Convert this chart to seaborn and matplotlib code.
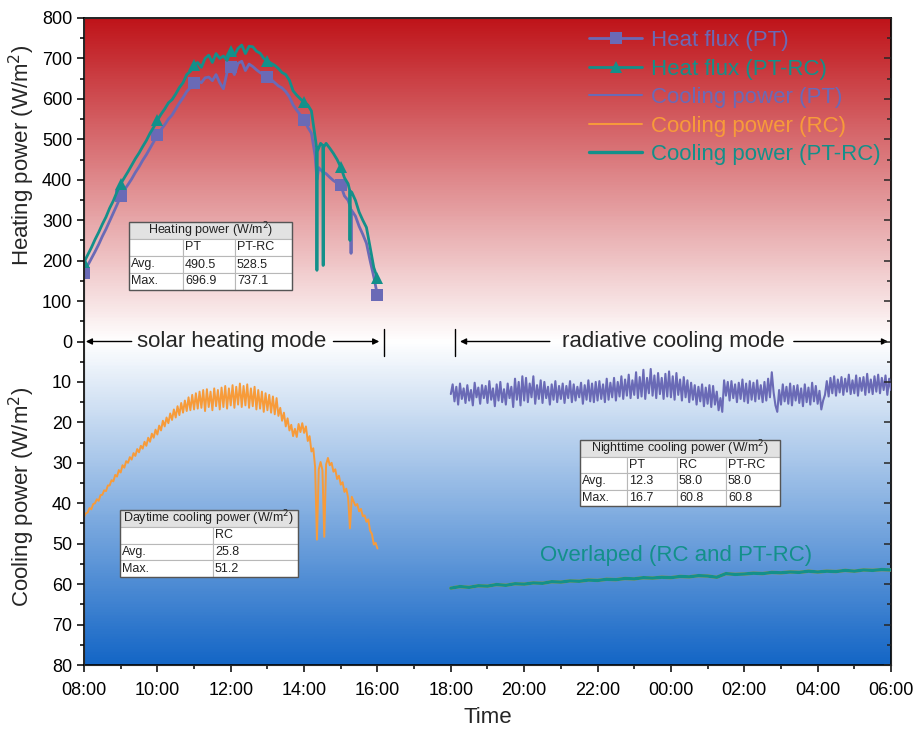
import numpy as np
import pandas as pd
import matplotlib.pyplot as plt
import seaborn as sns
from matplotlib.colors import LinearSegmentedColormap
from matplotlib.patches import Rectangle

# ---- heat flux (W/m2), daytime, solar heating mode ----
heat_time_pt = [8.0, 8.1, 8.2, 8.3, 8.4, 8.5, 8.6, 8.7, 8.8, 8.9, 9.0, 9.1, 9.2, 9.3, 9.4, 9.5, 9.6, 9.7, 9.8, 9.9,
                10.0, 10.1, 10.2, 10.3, 10.4, 10.5, 10.6, 10.7, 10.8, 10.9, 11.0, 11.1, 11.2, 11.3, 11.4, 11.5, 11.6,
                11.7, 11.8, 11.9, 12.0, 12.1, 12.2, 12.3, 12.4, 12.5, 12.6, 12.7, 12.8, 12.9, 13.0, 13.1, 13.2, 13.3,
                13.4, 13.5, 13.6, 13.7, 13.8, 13.9, 14.0, 14.1, 14.2, 14.3, 14.35, 14.4, 14.5, 14.6, 14.7, 14.8, 14.9,
                15.0, 15.1, 15.2, 15.27, 15.28, 15.29, 15.4, 15.5, 15.6, 15.7, 15.8, 15.9, 16.0]
heat_pt = [170, 188, 205, 222, 240, 260, 278, 298, 318, 338, 359, 375, 388, 402, 418, 432, 448, 462, 478, 494,
           510, 524, 536, 550, 560, 575, 590, 603, 618, 628, 639, 645, 640, 652, 654, 645, 660,
           640, 625, 665, 680, 660, 688, 693, 670, 686, 680, 672, 665, 660, 654, 648, 640, 632,
           627, 618, 605, 585, 572, 560, 547, 530, 515, 460, 400, 430, 420, 415, 406, 398, 392,
           386, 360, 349, 330, 218, 325, 310, 285, 265, 243, 200, 160, 114]

heat_time_ptrc = [8.0, 8.1, 8.2, 8.3, 8.4, 8.5, 8.6, 8.7, 8.8, 8.9, 9.0, 9.1, 9.2, 9.3, 9.4, 9.5, 9.6, 9.7, 9.8, 9.9,
                  10.0, 10.1, 10.2, 10.3, 10.4, 10.5, 10.6, 10.7, 10.8, 10.9, 11.0, 11.1, 11.2, 11.3, 11.4, 11.5,
                  11.6, 11.7, 11.8, 11.9, 12.0, 12.1, 12.2, 12.3, 12.4, 12.5, 12.6, 12.7, 12.8, 12.9, 13.0, 13.1,
                  13.2, 13.3, 13.4, 13.5, 13.6, 13.7, 13.8, 13.9, 14.0, 14.1, 14.2, 14.3, 14.34, 14.35, 14.36,
                  14.45, 14.51, 14.52, 14.53, 14.6, 14.7, 14.8, 14.9, 15.0, 15.1, 15.2, 15.24, 15.25, 15.26,
                  15.3, 15.4, 15.5, 15.6, 15.7, 15.8, 15.9, 16.0]
heat_ptrc = [196, 214, 232, 252, 270, 290, 308, 330, 348, 370, 390, 405, 420, 436, 452, 466, 482, 497, 515, 530,
             547, 562, 575, 590, 598, 612, 628, 640, 660, 668, 683, 690, 678, 700, 708, 690,
             712, 700, 706, 695, 719, 708, 725, 733, 712, 730, 729, 718, 713, 700, 694, 688,
             683, 675, 665, 660, 646, 620, 609, 600, 592, 585, 570, 506, 480, 176, 470,
             490, 485, 188, 480, 490, 478, 465, 450, 431, 405, 390, 375, 250, 372,
             369, 349, 320, 300, 282, 233, 183, 156]

# ---- cooling power (W/m2) ----
# RC, daytime 08:00-16:00 (every 3 min)
rc_day = [43.4, 42.5, 42.3, 41.2, 41.5, 40.2, 40.0, 39.0, 39.4, 38.0, 37.9, 36.8, 37.0, 35.6, 35.6, 34.3, 34.6, 33.0,
          33.4, 31.8, 32.4, 30.6, 31.2, 29.6, 30.0, 28.6, 29.2, 27.6, 28.3, 26.6, 27.4, 25.8, 26.5, 24.8, 25.8, 23.8,
          24.8, 22.8, 23.8, 21.8, 23.0, 20.8, 22.0, 19.6, 21.0, 18.8, 20.2, 17.8, 19.4, 16.8, 18.8, 16.0, 18.2, 15.2,
          17.6, 14.6, 17.2, 13.8, 17.0, 13.2, 16.8, 12.8, 16.6, 12.4, 16.4, 12.0, 17.2, 11.8, 16.2, 12.4, 17.0, 11.6,
          16.0, 12.0, 16.8, 11.4, 16.2, 11.0, 16.6, 11.6, 15.8, 10.8, 16.4, 11.2, 15.6, 10.4, 16.2, 11.0, 15.8, 10.6,
          16.4, 11.6, 16.0, 11.2, 16.8, 12.0, 16.6, 12.4, 17.4, 12.8, 17.0, 13.2, 17.6, 13.6, 18.0, 14.0, 18.4, 16.4,
          19.6, 17.6, 21.0, 19.0, 22.0, 20.6, 23.4, 21.6, 23.6, 20.4, 22.4, 20.2, 22.6, 21.0, 24.6, 23.4, 27.2, 26.4,
          31.0, 49.0, 31.6, 29.8, 31.8, 48.3, 30.4, 28.8, 30.6, 30.0, 32.2, 31.6, 34.0, 33.2, 35.4, 34.8, 37.2, 36.4,
          38.6, 46.2, 38.4, 39.6, 40.6, 40.2, 42.0, 41.4, 43.2, 43.0, 44.6, 44.0, 46.8, 47.6, 50.2, 49.8, 51.2]

# PT, nighttime 18:00-06:00 (every 3 min)
pt_night = [13.0, 10.6, 14.8, 11.2, 15.6, 10.4, 14.2, 11.6, 15.2, 10.8, 14.6, 12.0, 15.8, 10.2, 13.8, 11.4, 15.4, 10.8, 14.0, 11.0,
            15.2, 9.8, 14.4, 11.6, 16.0, 10.6, 14.6, 10.0, 15.0, 11.8, 15.6, 10.4, 14.0, 11.2, 16.2, 9.2, 14.4, 10.0, 15.8, 8.6,
            14.6, 9.0, 15.0, 10.4, 13.8, 8.6, 15.4, 10.8, 14.2, 9.6, 15.2, 10.0, 14.0, 11.2, 15.6, 10.6, 14.4, 9.8, 15.0, 11.0,
            14.2, 10.4, 15.2, 11.0, 14.0, 9.8, 15.0, 10.6, 14.6, 11.2, 13.8, 10.2, 15.4, 10.8, 14.4, 9.6, 14.8, 10.4, 15.0, 10.0,
            14.6, 9.8, 14.2, 10.6, 15.0, 9.2, 14.4, 10.2, 13.8, 9.0, 14.6, 10.0, 13.6, 8.6, 14.2, 9.4, 13.4, 8.2, 14.0, 9.6,
            13.2, 7.6, 14.0, 8.8, 13.6, 7.0, 14.2, 9.0, 12.8, 6.8, 13.4, 8.4, 14.0, 7.8, 13.0, 9.0, 14.2, 8.0, 13.6, 7.4,
            13.8, 8.6, 14.4, 7.8, 13.2, 9.4, 14.6, 8.8, 13.8, 9.6, 15.0, 10.2, 14.4, 10.8, 15.6, 11.2, 14.8, 10.6, 16.0, 11.4,
            15.4, 10.8, 16.2, 11.0, 15.6, 12.4, 17.0, 14.0, 17.4, 9.6, 13.4, 10.0, 14.6, 9.8, 14.0, 10.6, 15.0, 10.2, 14.2, 9.4,
            14.8, 10.4, 15.2, 9.8, 14.4, 10.2, 14.8, 9.6, 14.2, 10.8, 15.0, 10.0, 14.6, 9.2, 13.8, 7.6, 12.6, 15.8, 17.4, 12.0,
            15.6, 10.6, 14.8, 11.2, 15.4, 10.4, 15.8, 11.0, 14.6, 10.8, 15.2, 11.6, 16.0, 10.6, 15.0, 11.4, 15.6, 10.2, 14.8, 11.0,
            15.4, 12.2, 16.8, 14.6, 13.2, 9.8, 13.6, 9.0, 12.8, 8.6, 13.4, 9.4, 12.6, 8.8, 13.2, 9.2, 12.4, 8.2, 13.0, 9.6,
            12.8, 8.4, 13.4, 9.0, 12.2, 8.8, 13.2, 8.0, 12.6, 9.4, 13.0, 8.6, 12.4, 8.2, 12.8, 9.0, 12.0, 8.4, 13.2, 9.2,
            12.0]

# PT-RC (and RC, overlapped), nighttime 18:00-06:00 (every 15 min)
ptrc_night = [61.0, 60.6, 60.8, 60.4, 60.5, 60.1, 60.3, 59.9, 60.0, 59.7, 59.8, 59.4, 59.5, 59.2, 59.3, 59.0, 59.1,
              58.8, 58.9, 58.6, 58.7, 58.4, 58.5, 58.3, 58.4, 58.1, 58.2, 57.9, 58.0, 58.3, 57.4, 57.6, 57.5,
              57.3, 57.4, 57.1, 57.2, 57.0, 57.1, 56.8, 57.0, 56.8, 56.9, 56.6, 56.8, 56.5, 56.6, 56.4, 56.5]

c_pt = '#6a6ab6'
c_rc = '#f79b3a'
c_ptrc = '#13908a'

W, H = 919, 729

sns.set_style('ticks')
plt.rcParams['font.family'] = ['Liberation Sans', 'DejaVu Sans']

fig = plt.figure(figsize=(W / 100, H / 100), dpi=100)
ax = fig.add_axes([84 / W, 1 - 665 / H, 807 / W, 647 / H])

# background: red (heating) -> white -> blue (cooling)
grad = np.linspace(-800, 800, 500).reshape(-1, 1)
cmap = LinearSegmentedColormap.from_list('bg', ['#1466c6', '#ffffff', '#bf141a'])
ax.imshow(grad, extent=[8, 30, -800, 800], origin='lower', aspect='auto',
          cmap=cmap, vmin=-800, vmax=800, zorder=0)

df_pt = pd.DataFrame({'t': heat_time_pt, 'v': heat_pt})
df_ptrc = pd.DataFrame({'t': heat_time_ptrc, 'v': heat_ptrc})
df_rc_day = pd.DataFrame({'t': np.linspace(8, 16, len(rc_day)), 'v': -10 * np.array(rc_day)})
df_pt_night = pd.DataFrame({'t': np.linspace(18, 30, len(pt_night)), 'v': -10 * np.array(pt_night)})
df_ptrc_night = pd.DataFrame({'t': np.linspace(18, 30, len(ptrc_night)), 'v': -10 * np.array(ptrc_night)})


def hourly(times):
    return [i for i, t in enumerate(times) if abs(t - round(t)) < 1e-6]


sns.lineplot(data=df_pt, x='t', y='v', ax=ax, color=c_pt, lw=2.0, marker='s', markersize=8,
             markeredgewidth=0, markevery=hourly(heat_time_pt), sort=False, estimator=None,
             label='Heat flux (PT)', zorder=3)
sns.lineplot(data=df_ptrc, x='t', y='v', ax=ax, color=c_ptrc, lw=2.0, marker='^', markersize=9,
             markeredgewidth=0, markevery=hourly(heat_time_ptrc), sort=False, estimator=None,
             label='Heat flux (PT-RC)', zorder=4)
sns.lineplot(data=df_pt_night, x='t', y='v', ax=ax, color=c_pt, lw=1.5, sort=False, estimator=None,
             label='Cooling power (PT)', zorder=3)
sns.lineplot(data=df_rc_day, x='t', y='v', ax=ax, color=c_rc, lw=1.4, sort=False, estimator=None,
             label='Cooling power (RC)', zorder=3)
sns.lineplot(data=df_ptrc_night, x='t', y='v', ax=ax, color=c_rc, lw=2.4, sort=False, estimator=None,
             zorder=3)
sns.lineplot(data=df_ptrc_night, x='t', y='v', ax=ax, color=c_ptrc, lw=2.4, sort=False, estimator=None,
             label='Cooling power (PT-RC)', zorder=4)

ax.set_xlim(8, 30)
ax.set_ylim(-800, 800)
xt = np.arange(8, 31, 2)
ax.set_xticks(xt)
ax.set_xticklabels([f'{int(h % 24):02d}:00' for h in xt])
ax.set_xticks(np.arange(8, 31, 1), minor=True)
yt = np.arange(-800, 801, 100)
ax.set_yticks(yt)
ax.set_yticklabels([str(v) if v >= 0 else str(-v // 10) for v in yt])
ax.set_yticks(np.arange(-800, 801, 50), minor=True)
ax.tick_params(which='both', direction='out', labelsize=13, width=1.1, colors='black')
ax.tick_params(which='major', length=5)
ax.tick_params(which='minor', length=3)
ax.tick_params(axis='x', pad=7)
ax.set_xlabel('Time', fontsize=16, labelpad=6)
ax.set_ylabel('')
for s in ax.spines.values():
    s.set_linewidth(1.2)
    s.set_color('black')

ax_r = ax.twinx()
ax_r.set_ylim(-800, 800)
ax_r.set_yticks(yt)
ax_r.set_yticks(np.arange(-800, 801, 50), minor=True)
ax_r.tick_params(which='both', direction='in', labelright=False, width=1.1)
ax_r.tick_params(which='major', length=5)
ax_r.tick_params(which='minor', length=3)
ax_r.grid(False)

fig.text(22 / W, 1 - 155 / H, 'Heating power (W/m$^2$)', rotation=90, ha='center', va='center', fontsize=16)
fig.text(22 / W, 1 - 497 / H, 'Cooling power (W/m$^2$)', rotation=90, ha='center', va='center', fontsize=16)

# mode annotations
arrow = dict(arrowstyle='-|>', color='black', lw=1.0, mutation_scale=9, shrinkA=0, shrinkB=0)
ax.text(12.03, 0, 'solar heating mode', ha='center', va='center', fontsize=16, zorder=5)
ax.annotate('', xy=(8.05, 0), xytext=(9.3, 0), arrowprops=arrow)
ax.annotate('', xy=(16.05, 0), xytext=(14.8, 0), arrowprops=arrow)
ax.plot([16.18, 16.18], [-35, 30], color='black', lw=1.0)
ax.text(24.06, 0, 'radiative cooling mode', ha='center', va='center', fontsize=16, zorder=5)
ax.annotate('', xy=(18.25, 0), xytext=(20.7, 0), arrowprops=arrow)
ax.annotate('', xy=(29.92, 0), xytext=(27.35, 0), arrowprops=arrow)
ax.plot([18.12, 18.12], [-35, 30], color='black', lw=1.0)
ax.text(24.14, -530, 'Overlaped (RC and PT-RC)', ha='center', va='center', fontsize=16, color=c_ptrc, zorder=5)

leg = ax.legend(loc='upper right', bbox_to_anchor=((881 - 84) / 807, (665 - 30) / 647), frameon=False,
                fontsize=16, labelcolor='linecolor', handlelength=2.4, handletextpad=0.4,
                labelspacing=0.34, borderaxespad=0, borderpad=0)


def draw_table(left, top, widths, row_h, title, rows):
    total = sum(widths)
    fig.add_artist(Rectangle((left / W, 1 - (top + row_h) / H), total / W, row_h / H,
                             transform=fig.transFigure, facecolor='#e2e2e2', edgecolor='#b8b8b8', lw=0.8))
    fig.text((left + total / 2) / W, 1 - (top + row_h / 2) / H, title, ha='center', va='center',
             fontsize=9, color='#222222')
    for r, row in enumerate(rows):
        y = top + row_h * (r + 1)
        x = left
        for w, txt in zip(widths, row):
            fig.add_artist(Rectangle((x / W, 1 - (y + row_h) / H), w / W, row_h / H,
                                     transform=fig.transFigure, facecolor='white', edgecolor='#b8b8b8', lw=0.8))
            fig.text((x + 2) / W, 1 - (y + row_h / 2) / H, txt, ha='left', va='center', fontsize=9,
                     color='#222222')
            x += w
    n = len(rows) + 1
    fig.add_artist(Rectangle((left / W, 1 - (top + n * row_h) / H), total / W, n * row_h / H,
                             transform=fig.transFigure, facecolor='none', edgecolor='#555555', lw=1.0))


draw_table(129, 222, [54, 52, 57], 17, 'Heating power (W/m$^2$)',
           [['', 'PT', 'PT-RC'], ['Avg.', '490.5', '528.5'], ['Max.', '696.9', '737.1']])
draw_table(580, 440, [47, 50, 49, 54], 16.5, 'Nighttime cooling power (W/m$^2$)',
           [['', 'PT', 'RC', 'PT-RC'], ['Avg.', '12.3', '58.0', '58.0'], ['Max.', '16.7', '60.8', '60.8']])
draw_table(120, 510, [93, 85], 16.8, 'Daytime cooling power (W/m$^2$)',
           [['', 'RC'], ['Avg.', '25.8'], ['Max.', '51.2']])

fig.savefig('out.png', dpi=100)
